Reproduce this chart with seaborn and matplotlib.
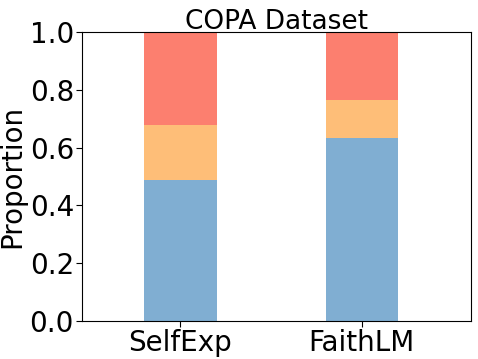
import numpy as np
import pandas as pd
import matplotlib
matplotlib.use("Agg")
import matplotlib.pyplot as plt
import seaborn as sns

# Data

methods = ["SelfExp", "FaithLM"]
blue_part = [0.488, 0.632]
orange_part = [0.191, 0.132]
red_part = [0.321, 0.236]

sns.set_style("white")
plt.rcParams["font.family"] = ["DejaVu Sans"]
plt.rcParams["text.color"] = "black"
plt.rcParams["axes.labelcolor"] = "black"
plt.rcParams["xtick.color"] = "black"
plt.rcParams["ytick.color"] = "black"

df = pd.DataFrame({
"method": methods,
"blue": blue_part,
"orange": orange_part,
"red": red_part
})
df["blue_top"] = df["blue"]
df["orange_top"] = df["blue"] + df["orange"]
df["red_top"] = df["orange_top"] + df["red"]

fig = plt.figure(figsize=(4.78, 3.59), dpi=100)
ax = fig.add_axes([0.172, 0.106, 0.813, 0.805])

# Stacked bars: draw tallest first
for col, c in [("red_top", "#fc7f6f"), ("orange_top", "#febe78"), ("blue_top", "#80aed2")]:
    sns.barplot(data=df, x="method", y=col, color=c, saturation=1, width=0.4,
                linewidth=0, edgecolor="none", ax=ax)

ax.set_ylim(0, 1.0)
ax.set_xlim(-0.54, 1.60)
ax.set_title("COPA Dataset", fontsize=19, pad=2)
ax.set_ylabel("Proportion", fontsize=20, labelpad=2)
ax.set_xlabel("")
ax.tick_params(axis="both", labelsize=20, length=4, left=True, bottom=True, pad=2)
ax.set_yticks([0.0, 0.2, 0.4, 0.6, 0.8, 1.0])
for s in ax.spines.values():
    s.set_color("black")
    s.set_linewidth(0.8)

fig.savefig("out.png", dpi=100)
